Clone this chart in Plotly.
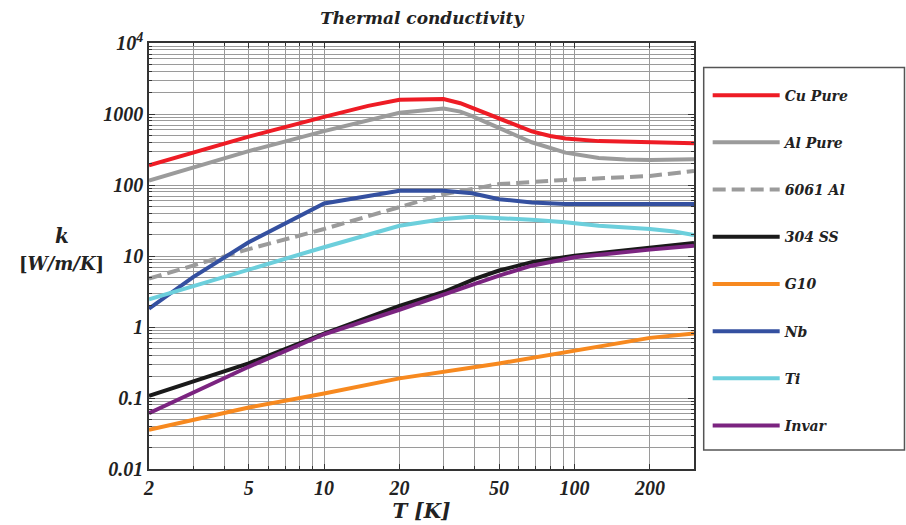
import plotly.graph_objects as go

# ---- data ----
T_cu = [2, 5, 10, 15, 20, 30, 35, 39, 50, 67.5, 80, 92, 125, 200, 300]
k_cu = [190, 480, 913, 1300, 1590, 1620, 1420, 1222, 837, 570, 490, 453, 415, 394, 386]

T_al = [2, 5, 10, 15, 20, 30, 35, 39, 50, 67.5, 92, 125, 160, 200, 300]
k_al = [115, 300, 574, 820, 1040, 1195, 1080, 931, 640, 400, 286, 240, 228, 225, 230]

T_6061 = [2, 5, 10, 20, 30, 50, 92, 200, 300]
k_6061 = [4.8, 12.5, 24, 48, 74, 103, 118, 134, 158]

T_ss = [2, 3, 5, 10, 20, 30, 40, 50, 67.5, 100, 200, 300]
k_ss = [0.107, 0.17, 0.307, 0.807, 1.98, 3.11, 4.77, 6.24, 8.2, 10.1, 13.3, 15.3]

T_g10 = [2, 5, 10, 20, 50, 100, 200, 300]
k_g10 = [0.0356, 0.0733, 0.116, 0.189, 0.307, 0.471, 0.703, 0.808]

T_nb = [2, 3, 5, 10, 20, 30, 39, 50, 67.5, 92, 300]
k_nb = [1.81, 5.04, 15.6, 55, 82.7, 82.7, 76.7, 63.2, 56.8, 53.8, 53.8]

T_ti = [2, 5, 10, 20, 30, 39, 50, 67.5, 92, 125, 200, 250, 300]
k_ti = [2.45, 6.44, 13.3, 26.7, 33.1, 35.7, 34.2, 32.4, 29.8, 26.7, 24, 22.2, 19.8]

T_inv = [2, 5, 10, 20, 40, 50, 67.5, 100, 200, 300]
k_inv = [0.061, 0.275, 0.79, 1.75, 4.06, 5.3, 7.3, 9.6, 12.3, 14.0]

series = [
    ("Cu Pure", T_cu, k_cu, "#ee1c25", "solid"),
    ("Al Pure", T_al, k_al, "#9b9b9b", "solid"),
    ("6061 Al", T_6061, k_6061, "#9b9b9b", "13px,6px"),
    ("304 SS", T_ss, k_ss, "#1a1a1a", "solid"),
    ("G10", T_g10, k_g10, "#f7891f", "solid"),
    ("Nb", T_nb, k_nb, "#3450a0", "solid"),
    ("Ti", T_ti, k_ti, "#6ccfdc", "solid"),
    ("Invar", T_inv, k_inv, "#7b2480", "solid"),
]

x_tickvals = [2, 5, 10, 20, 50, 100, 200]
x_ticktext = ["2", "5", "10", "20", "50", "100", "200"]
y_tickvals = [0.01, 0.1, 1, 10, 100, 1000, 10000]
y_ticktext = ["0.01", "0.1", "1", "10", "100", "1000", "10<sup>4</sup>"]

x_minor = [m * 10 ** e for e in range(0, 3) for m in range(1, 10)]
x_minor = [v for v in x_minor if 2 <= v <= 300]
y_minor = [m * 10.0 ** e for e in range(-2, 4) for m in range(1, 10)]

SERIF = "Liberation Serif"
WIDE = "DejaVu Serif"

fig = go.Figure()
for name, T, k, color, dash in series:
    fig.add_trace(go.Scatter(
        x=T, y=k, mode="lines", name=name, legendgroup=name,
        line=dict(color=color, width=4, dash=dash),
    ))

# legend frame
fig.add_shape(type="rect", xref="paper", yref="paper",
              x0=1.0178, x1=1.3862, y0=0.0444, y1=0.9423,
              line=dict(color="#555", width=1.5), fillcolor="rgba(0,0,0,0)", layer="above")

fig.update_layout(
    width=906, height=525,
    margin=dict(l=149, r=212, t=43, b=54),
    paper_bgcolor="white", plot_bgcolor="white",
    title=dict(text="Thermal conductivity", x=0.4655, xanchor="center", y=0.965, yanchor="middle",
               font=dict(family=WIDE, size=17, color="#222", style="italic", weight="bold")),
    showlegend=True,
    legend=dict(x=1.0251, xanchor="left", y=0.9142, yanchor="top",
                borderwidth=0, bgcolor="rgba(0,0,0,0)",
                font=dict(family=WIDE, size=14, color="#222", style="italic", weight="bold"),
                tracegroupgap=26, itemwidth=67,
                ),
)

fig.update_xaxes(
    type="log", range=[0.30103, 2.47712],
    tickvals=x_tickvals, ticktext=x_ticktext,
    showgrid=True, gridcolor="#9a9a9a", gridwidth=1,
    ticks="inside", ticklen=5, tickcolor="#333",
    minor=dict(tickvals=x_minor, showgrid=True, gridcolor="#9a9a9a", gridwidth=1,
               ticks="inside", ticklen=3, tickcolor="#333"),
    showline=True, linecolor="#333", linewidth=1.5, mirror="ticks",
    tickfont=dict(family=SERIF, size=20, color="#222", style="italic", weight="bold"),
    title=dict(text="T [K]", standoff=0,
               font=dict(family=WIDE, size=20, color="#222", style="italic", weight="bold")),
    zeroline=False,
)
fig.update_yaxes(
    type="log", range=[-2, 4],
    tickvals=y_tickvals, ticktext=y_ticktext,
    showgrid=True, gridcolor="#9a9a9a", gridwidth=1,
    ticks="inside", ticklen=6, tickcolor="#333",
    minor=dict(tickvals=y_minor, showgrid=True, gridcolor="#9a9a9a", gridwidth=1,
               ticks="inside", ticklen=3, tickcolor="#333"),
    showline=True, linecolor="#333", linewidth=1.5, mirror="ticks",
    tickfont=dict(family=SERIF, size=20, color="#222", style="italic", weight="bold"),
    zeroline=False,
)

fig.add_annotation(text="<i><b>k</b></i>", xref="paper", yref="paper",
                   x=-0.16, y=0.548, xanchor="center", yanchor="middle", showarrow=False,
                   font=dict(family=WIDE, size=20, color="#222"))
fig.add_annotation(text="[<i>W/m/K</i>]", xref="paper", yref="paper",
                   x=-0.16, y=0.483, xanchor="center", yanchor="middle", showarrow=False,
                   font=dict(family=WIDE, size=18, color="#222", weight="bold"))

fig.write_html("out.html")
